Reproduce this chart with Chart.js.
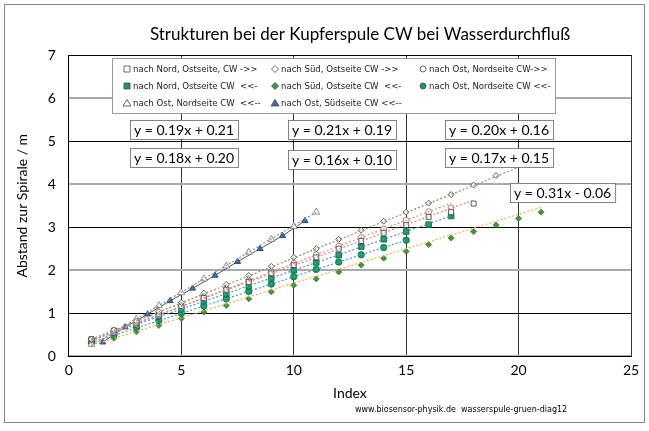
<!DOCTYPE html>
<html>
<head>
<meta charset="utf-8">
<script src="https://cdn.jsdelivr.net/npm/chart.js@4"></script>
<style>
  body { margin: 0; background: #fff; }
  #wrap { position: relative; width: 649px; height: 431px; }
</style>
</head>
<body>
<div id="wrap"><canvas id="c" width="649" height="431"></canvas></div>
<script>
const titleText = "Strukturen bei der Kupferspule CW bei Wasserdurchfluß";
const xTicks = [0, 5, 10, 15, 20, 25];

const nordOstHin = [0.40,0.60,0.78,0.98,1.17,1.36,1.55,1.73,1.93,2.12,2.30,2.50,2.68,2.87,3.05,3.24,3.35,3.55];
const suedOstHin = [0.40,0.62,0.82,1.04,1.25,1.47,1.67,1.88,2.09,2.30,2.50,2.72,2.93,3.14,3.35,3.56,3.76,3.98,4.20,4.45];
const ostNordHin = [0.38,0.57,0.76,0.96,1.16,1.36,1.56,1.76,1.96,2.16,2.36,2.56,2.76,2.96,3.16,3.36,3.45];
const nordOstRueck = [0.36,0.55,0.73,0.92,1.09,1.28,1.45,1.63,1.82,2.00,2.18,2.35,2.55,2.72,2.90,3.06,3.26];
const suedOstRueck = [0.30,0.42,0.57,0.72,0.88,1.03,1.18,1.34,1.50,1.65,1.80,1.96,2.12,2.28,2.44,2.60,2.75,2.90,3.05,3.20,3.35];
const ostNordRueck = [0.33,0.49,0.66,0.83,1.00,1.17,1.34,1.51,1.68,1.85,2.02,2.19,2.36,2.53,2.70];
const ostNordRueck2 = [0.28,0.56,0.87,1.18,1.48,1.80,2.10,2.42,2.72,3.02,3.35];
const ostSuedRueckX = [1.5,2.5,3.5,4.5,5.5,6.5,7.5,8.5,9.5,10.5];
const ostSuedRueck = [0.33,0.68,0.98,1.29,1.58,1.88,2.20,2.50,2.80,3.15];

// trend lines: [slope, intercept, xFrom, xTo, colour]
const trends = [
  [0.19, 0.21, 1, 18, "#e08080"],
  [0.21, 0.19, 1, 20, "#7a9a60"],
  [0.20, 0.16, 1, 17, "#d09090"],
  [0.18, 0.20, 1, 17, "#5b8fd0"],
  [0.16, 0.10, 1, 21, "#f0b040"],
  [0.17, 0.15, 1, 15, "#40a0c0"],
  [0.31, -0.06, 1, 11, "#909090"]
];
const eqLabels = [
  ["y = 0.19x + 0.21", 130, 120], ["y = 0.21x + 0.19", 288, 120], ["y = 0.20x + 0.16", 445, 120],
  ["y = 0.18x + 0.20", 130, 148], ["y = 0.16x + 0.10", 288, 150], ["y = 0.17x + 0.15", 445, 148],
  ["y = 0.31x - 0.06", 510, 183]
];
const legendItems = [
  ["nach Nord, Ostseite, CW ->>", "rect", "#fff"], ["nach Süd, Ostseite CW ->>", "rectRot", "#fff"], ["nach Ost, Nordseite CW->>", "circle", "#fff"],
  ["nach Nord, Ostseite CW  <<-", "rect", "#1a9a60"], ["nach Süd, Ostseite CW  <<-", "rectRot", "#3a9a40"], ["nach Ost, Nordseite CW <<-", "circle", "#1a9a60"],
  ["nach Ost, Nordseite CW  <<--", "triangle", "#fff"], ["nach Ost, Südseite CW <<--", "triangle", "#4a6ea0"]
];

const pts = (ys, xs) => ys.map((y, i) => ({ x: xs ? xs[i] : i + 1, y }));
const ser = (data, style, fill, size, border) => ({
  type: "scatter", data, pointStyle: style, backgroundColor: fill,
  borderColor: border || "#333", borderWidth: 0.8, pointRadius: size, showLine: false
});

const datasets = [];
trends.forEach(([m, b, x0, x1, col]) => datasets.push({
  type: "line", data: [{ x: x0, y: m * x0 + b }, { x: x1, y: m * x1 + b }],
  borderColor: col, borderWidth: 1.2, borderDash: [2, 2], pointRadius: 0
}));
datasets.push(ser(pts(suedOstHin), "rectRot", "#fff", 3));
datasets.push(ser(pts(nordOstHin), "rect", "#fff", 3.5));
datasets.push(ser(pts(ostNordHin), "circle", "#fff", 3, "#a06060"));
datasets.push(ser(pts(ostNordRueck2), "triangle", "#fff", 4, "#777"));
datasets.push({ type: "line", data: pts(ostSuedRueck, ostSuedRueckX), borderColor: "#555", borderWidth: 1,
  pointStyle: "triangle", pointRadius: 3.5, backgroundColor: "#4a6ea0", pointBorderColor: "#2a4a80" });
datasets.push(ser(pts(nordOstRueck), "rect", "#1a9a60", 4, "#0a6a40"));
datasets.push(ser(pts(ostNordRueck), "circle", "#1a9a60", 3.2, "#0a6a40"));
datasets.push(ser(pts(suedOstRueck), "rectRot", "#3a9a40", 3, "#556b2f"));

const overlay = {
  id: "overlay",
  afterDraw(chart) {
    const ctx = chart.ctx;
    ctx.save();
    ctx.strokeStyle = "#888"; ctx.lineWidth = 1;
    ctx.strokeRect(4.5, 4.5, 640, 418);
    ctx.fillStyle = "#000"; ctx.font = "17px Lato"; ctx.textAlign = "center"; ctx.textBaseline = "middle";
    ctx.fillText(titleText, 360, 35);
    // legend
    ctx.fillStyle = "#fff"; ctx.fillRect(112, 58, 444, 56);
    ctx.strokeStyle = "#999"; ctx.strokeRect(112.5, 58.5, 443, 55);
    ctx.font = "9.5px 'DejaVu Sans Condensed', 'DejaVu Sans'"; ctx.textAlign = "left";
    legendItems.forEach(([txt, st, fill], i) => {
      const col = i % 3, row = Math.floor(i / 3);
      const x = 127 + col * 148, y = 69 + row * 17;
      ctx.fillStyle = fill; ctx.strokeStyle = "#444"; ctx.lineWidth = 0.8;
      ctx.beginPath();
      if (st === "rect") ctx.rect(x - 3, y - 3, 6, 6);
      else if (st === "circle") ctx.arc(x, y, 3, 0, 2 * Math.PI);
      else if (st === "rectRot") { ctx.moveTo(x, y - 3.5); ctx.lineTo(x + 3.5, y); ctx.lineTo(x, y + 3.5); ctx.lineTo(x - 3.5, y); ctx.closePath(); }
      else { ctx.moveTo(x, y - 3.5); ctx.lineTo(x + 4, y + 3); ctx.lineTo(x - 4, y + 3); ctx.closePath(); }
      ctx.fill(); ctx.stroke();
      ctx.fillStyle = "#222"; ctx.fillText(txt, x + 6, y + 1);
    });
    // equation boxes
    ctx.font = "14px Lato";
    eqLabels.forEach(([txt, x, y]) => {
      const w = ctx.measureText(txt).width + 8;
      ctx.fillStyle = "#fff"; ctx.fillRect(x, y, w, 19);
      ctx.strokeStyle = "#666"; ctx.strokeRect(x + 0.5, y + 0.5, w, 19);
      ctx.fillStyle = "#000"; ctx.fillText(txt, x + 4, y + 10);
    });
    ctx.font = "8px 'DejaVu Sans'"; ctx.fillStyle = "#000";
    ctx.fillText("www.biosensor-physik.de  wasserspule-gruen-diag12", 355, 410);
    ctx.restore();
  }
};

new Chart(document.getElementById("c"), {
  type: "scatter",
  data: { datasets },
  options: {
    responsive: false, animation: false,
    layout: { padding: { left: 10, right: 18, top: 55, bottom: 29 } },
    plugins: { legend: { display: false }, tooltip: { enabled: false } },
    scales: {
      x: {
        min: 0, max: 25, afterBuildTicks: s => { s.ticks = xTicks.map(v => ({ value: v })); },
        grid: { color: "#333", lineWidth: 1, drawTicks: false },
        border: { color: "#000" },
        ticks: { color: "#000", font: { family: "Lato", size: 14 }, padding: 6 },
        title: { display: true, text: "Index", color: "#000", font: { family: "Lato", size: 14 }, padding: 0 }
      },
      y: {
        min: 0, max: 7,
        grid: { color: ctx => ctx.tick.value % 2 ? "#000" : "#aaa", lineWidth: ctx => ctx.tick.value % 2 ? 1 : 2, drawTicks: false },
        border: { color: "#000" },
        ticks: { stepSize: 1, color: "#000", font: { family: "Lato", size: 14 }, padding: 13 },
        title: { display: true, text: "Abstand zur Spirale / m", color: "#000", font: { family: "Lato", size: 14 } }
      }
    }
  },
  plugins: [overlay]
});
</script>
</body>
</html>
